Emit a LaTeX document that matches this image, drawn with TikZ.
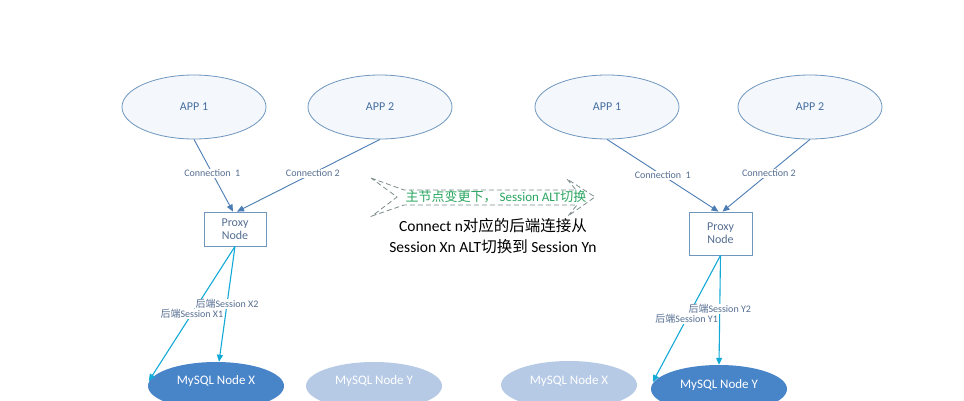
\documentclass[tikz,border=0pt]{standalone}
\usepackage{fontspec}
\setmainfont{Carlito}
\newfontfamily\cjk{Noto Sans CJK SC}
\usetikzlibrary{shapes.geometric,arrows.meta}
\definecolor{appline}{RGB}{110,150,190}
\definecolor{appfill}{RGB}{244,248,252}
\definecolor{apptext}{RGB}{70,110,160}
\definecolor{connline}{RGB}{75,125,180}
\definecolor{sessline}{RGB}{20,170,215}
\definecolor{lbltext}{RGB}{85,110,145}
\definecolor{dbdark}{RGB}{72,132,200}
\definecolor{dblight}{RGB}{182,202,230}
\definecolor{greentext}{RGB}{40,165,95}
\definecolor{dashgray}{RGB}{125,140,140}
\tikzset{
  appnode/.style={ellipse, draw=appline, fill=appfill, line width=0.8pt, minimum width=144pt, minimum height=64pt, inner sep=0pt, text=apptext, font=\fontsize{12}{14}\selectfont},
  proxybox/.style={draw=appline, fill=white, line width=0.8pt, inner sep=0pt, text=lbltext, align=center, font=\fontsize{12}{14}\selectfont},
  dbshape/.style={ellipse, minimum width=136pt, minimum height=48pt, inner sep=0pt},
  dbtext/.style={text=white, font=\fontsize{13}{15}\selectfont},
  connarrow/.style={draw=connline, line width=0.9pt, -{Triangle[length=7pt,width=6pt]}},
  sessarrow/.style={draw=sessline, line width=1.1pt, -{Triangle[length=7pt,width=6pt]}},
  conlbl/.style={fill=white, inner sep=1pt, text=lbltext, font=\fontsize{10}{12}\selectfont},
  sesslbl/.style={fill=white, inner sep=0.5pt, text=lbltext, font=\fontsize{10}{12}\selectfont},
}
\begin{document}
\begin{tikzpicture}[x=1pt,y=-1pt]
\useasboundingbox (0,0) rectangle (964,400);
\fill[white] (0,0) rectangle (964,400);

% ---------- left side ----------
\node[appnode] (la1) at (194,107) {APP 1};
\node[appnode] (la2) at (380,107) {APP 2};
\node[proxybox, minimum width=62pt, minimum height=34pt] (lp) at (235,229) {};
\node[text=lbltext, align=center, font=\fontsize{12}{14}\selectfont, inner sep=0pt] (lpt) at (235,229) {Proxy\\[-1pt]Node};
\node[dbshape, fill=dbdark] (lx) at (216,386) {};
\node[dbtext] (lxt) at (216,381) {MySQL Node X};
\node[dbshape, fill=dblight] (ly) at (374,386) {};
\node[dbtext] (lyt) at (374,381) {MySQL Node Y};

\draw[connarrow] (la1.south) -- node[conlbl, pos=0.47] {Connection\ \ 1} ([xshift=-2pt]lp.north);
\draw[connarrow] (la2.south) -- node[conlbl, pos=0.47] {Connection 2} ([xshift=2pt]lp.north);
\draw[sessarrow] (lp.south) -- node[sesslbl, pos=0.5] {{\cjk 后端}Session X1} ([xshift=1pt,yshift=5pt]lx.west);
\draw[sessarrow] (lp.south) -- node[sesslbl, pos=0.5] {{\cjk 后端}Session X2} ([xshift=3pt]lx.north);

% ---------- right side ----------
\node[appnode] (ra1) at (607,107) {APP 1};
\node[appnode] (ra2) at (810,107) {APP 2};
\node[proxybox, minimum width=63pt, minimum height=43pt] (rp) at (720.5,233.5) {};
\node[text=lbltext, align=center, font=\fontsize{12}{14}\selectfont, inner sep=0pt] (rpt) at (720.5,233) {Proxy\\[-1pt]Node};
\node[dbshape, fill=dblight] (rx) at (569,385) {};
\node[dbtext] (rxt) at (569,381) {MySQL Node X};
\node[dbshape, fill=dbdark] (ry) at (719,389) {};
\node[dbtext] (ryt) at (719,385) {MySQL Node Y};

\draw[connarrow] (ra1.south) -- node[conlbl, pos=0.5] {Connection\ \ 1} ([xshift=-2pt]rp.north);
\draw[connarrow] (ra2.south) -- node[conlbl, pos=0.47] {Connection 2} ([xshift=2pt]rp.north);
\draw[sessarrow] (rp.south) -- node[sesslbl, pos=0.5] {{\cjk 后端}Session Y1} ([xshift=2pt,yshift=7pt]ry.west);
\draw[sessarrow] (rp.south) -- node[sesslbl, pos=0.49] {{\cjk 后端}Session Y2} (ry.north);

% ---------- middle ----------
\draw[dashgray, dashed, line width=0.8pt, fill=white, dash pattern=on 5pt off 3pt]
  (371,178) -- (404,190) -- (576,190) -- (567,179) -- (595,197) -- (568,216)
  -- (577,205) -- (404,205) -- (372,216) -- (397,197) -- cycle;
\node[text=greentext, font=\fontsize{13}{15}\selectfont, inner sep=0pt] (gt) at (496,197) {{\cjk 主节点变更下，} Session ALT{\cjk 切换}};
\node[text=black, align=center, font=\fontsize{15.5}{21}\selectfont, inner sep=0pt] (bt) at (493,236)
  {Connect n{\cjk 对应的后端连接从}\\Session Xn ALT{\cjk 切换到} Session Yn};
\end{tikzpicture}
\end{document}
